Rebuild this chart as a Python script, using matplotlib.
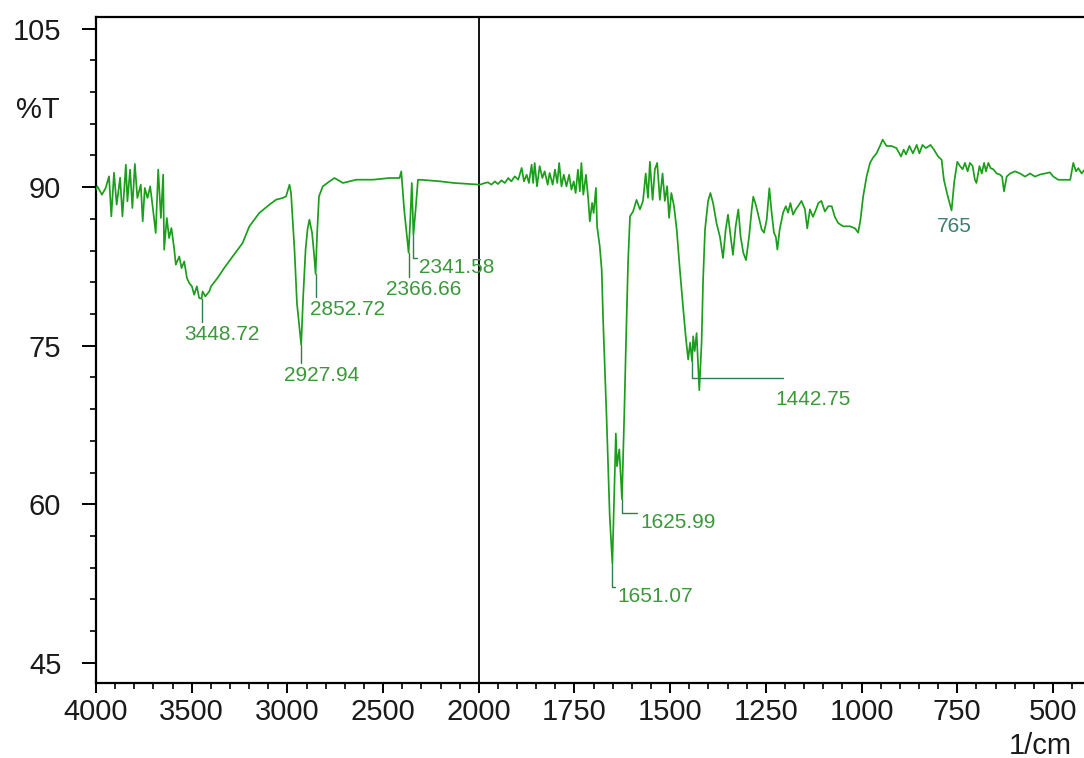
import numpy as np
import matplotlib
matplotlib.use("Agg")
import matplotlib.pyplot as plt
from matplotlib.ticker import FixedLocator, FixedFormatter

plt.rcParams['font.family'] = ['Liberation Sans', 'DejaVu Sans']

# FTIR spectrum: wavenumber (1/cm) and transmittance (%T)
wavenumber = [
    4000, 3993, 3969, 3949, 3932, 3920, 3906, 3892, 3874, 3862, 3844, 3836, 3822, 3810,
    3797, 3784, 3766, 3756, 3745, 3731, 3717, 3703, 3688, 3675, 3661, 3649, 3644, 3630,
    3618, 3606, 3592, 3583, 3565, 3553, 3539, 3525, 3513, 3499, 3487, 3473, 3461, 3448.72,
    3443, 3429, 3408, 3399, 3365, 3330, 3286, 3234, 3199, 3147, 3094, 3059, 3025, 3007,
    2989, 2981, 2963, 2950, 2927.94, 2918, 2905, 2895, 2885, 2871, 2860, 2852.72, 2845,
    2835, 2815, 2780, 2754, 2710, 2640, 2553, 2466, 2414, 2405, 2390, 2366.66, 2358, 2350,
    2341.58, 2330, 2318, 2300, 2200, 2130, 2000,
    1997, 1984, 1976, 1967, 1958, 1950, 1941, 1932, 1923, 1915, 1906, 1897, 1888, 1882,
    1875, 1869, 1862, 1858, 1854, 1848, 1841, 1834, 1828, 1820, 1815, 1807, 1801, 1795,
    1790, 1784, 1778, 1771, 1764, 1758, 1752, 1747, 1741, 1736, 1732, 1727, 1720, 1714,
    1710, 1704, 1700, 1694, 1691, 1684, 1679, 1675, 1666, 1658, 1651.07, 1646, 1642, 1639,
    1633, 1625.99, 1620, 1615, 1610, 1605, 1597, 1588, 1579, 1571, 1564, 1558, 1553, 1546,
    1540, 1534, 1527, 1520, 1514, 1508, 1503, 1497, 1490, 1483, 1475, 1466, 1459, 1453,
    1448, 1442.75, 1440, 1436, 1431, 1424, 1418, 1414, 1409, 1401, 1395, 1388, 1379, 1370,
    1362, 1355, 1349, 1342, 1336, 1329, 1322, 1316, 1309, 1302, 1294, 1287, 1283, 1276,
    1267, 1261, 1255, 1248, 1241, 1235, 1229, 1224, 1220, 1214, 1205, 1198, 1192, 1186,
    1179, 1172, 1166, 1157, 1148, 1142, 1135, 1127, 1119, 1113, 1105, 1096, 1087, 1078,
    1070, 1061, 1048, 1030, 1017, 1009, 1003, 996, 987, 978, 970, 961, 952, 945,
    935, 922, 909, 897, 890, 884, 875, 866, 856, 849, 841, 832, 820, 811,
    800, 791, 785, 776, 765, 758, 750, 743, 736, 730, 723, 717, 710, 704,
    700, 692, 686, 680, 675, 669, 663, 656, 647, 639, 633, 628, 621, 612,
    599, 586, 573, 560, 547, 534, 521, 508, 499, 486, 473, 455, 447, 440,
    434, 425, 419, 400,
]
transmittance = [
    89.8, 90.08, 89.29, 89.95, 91.03, 87.24, 91.37, 88.35, 90.90, 87.24, 92.13, 88.66, 91.66, 88.03,
    92.20, 88.98, 90.24, 86.77, 89.93, 88.98, 90.08, 88.03, 85.67, 91.66, 87.09, 91.19, 84.09, 87.09,
    85.19, 86.14, 84.25, 82.67, 83.45, 82.35, 82.98, 81.41, 80.94, 80.62, 79.83, 80.62, 79.52, 79.45,
    80.14, 79.67, 80.14, 80.62, 81.41, 82.36, 83.45, 84.72, 86.29, 87.56, 88.35, 88.82, 88.98, 89.13,
    90.24, 89.45, 84.09, 79.0, 75.1, 79.5, 84.1, 86.0, 86.93, 85.67, 83.5, 81.8, 85.5,
    89.13, 90.08, 90.55, 90.87, 90.40, 90.71, 90.71, 90.87, 90.87, 91.50, 87.9, 83.8, 87.0, 90.4,
    85.5, 87.9, 90.7, 90.7, 90.55, 90.40, 90.24,
    90.24, 90.40, 90.46, 90.24, 90.55, 90.30, 90.65, 90.40, 90.87, 90.55, 91.03, 90.71, 91.82, 90.55,
    91.18, 90.40, 92.13, 90.40, 92.29, 90.08, 92.0, 90.87, 91.50, 90.24, 91.34, 90.24, 91.66, 90.40,
    92.29, 90.08, 91.18, 90.08, 91.18, 89.77, 90.55, 89.45, 91.66, 89.61, 92.29, 89.29, 91.18, 88.82,
    86.77, 88.51, 87.56, 89.93, 86.29, 84.40, 82.2, 77.2, 68.0, 58.9, 54.4, 61.1, 66.7, 63.6,
    65.2, 60.5, 68.5, 76.0, 83.0, 87.24, 87.7, 88.8, 87.9, 88.7, 91.3, 89.0, 92.4, 88.8,
    91.7, 92.3, 88.8, 91.3, 88.7, 90.1, 87.1, 89.45, 88.2, 86.0, 82.3, 78.5, 75.7, 73.7,
    75.3, 73.5, 75.9, 74.5, 76.2, 70.8, 75.3, 81.3, 86.0, 88.7, 89.45, 88.5, 86.6, 85.3,
    83.3, 86.0, 87.4, 85.3, 83.6, 86.3, 87.9, 85.3, 83.8, 83.1, 85.3, 87.9, 89.1, 88.3,
    86.9, 86.0, 85.7, 86.9, 89.9, 87.6, 85.7, 85.3, 84.1, 86.0, 87.6, 88.2, 87.6, 88.5,
    87.4, 87.9, 88.2, 88.7, 87.9, 86.1, 87.9, 87.2, 87.9, 88.5, 88.7, 87.7, 88.2, 88.2,
    87.2, 86.6, 86.3, 86.3, 86.1, 85.7, 86.9, 89.1, 91.0, 92.3, 92.8, 93.2, 93.9, 94.5,
    93.9, 93.9, 93.7, 92.9, 93.55, 93.1, 93.9, 93.2, 94.0, 93.2, 94.0, 93.7, 94.0, 93.55,
    92.9, 92.6, 90.7, 89.3, 87.8, 90.5, 92.4, 92.0, 91.7, 92.3, 91.5, 92.3, 92.0, 90.7,
    90.4, 92.0, 91.3, 92.3, 91.5, 92.3, 91.8, 91.7, 91.3, 91.2, 91.0, 89.6, 91.0, 91.3,
    91.5, 91.3, 91.0, 91.3, 91.0, 91.2, 91.3, 91.4, 91.0, 90.7, 90.7, 90.7, 92.3, 91.5,
    91.8, 91.3, 91.6, 91.2,
]

# Labelled peaks
peak_labels = ["3448.72", "2927.94", "2852.72", "2366.66", "2341.58",
               "1651.07", "1625.99", "1442.75", "765"]
x_major = [4000, 3500, 3000, 2500, 2000, 1750, 1500, 1250, 1000, 750, 500]
y_major = [105, 90, 75, 60, 45]

LINE = "#1c9e1c"
LABEL = "#3b983b"
LEADER = "#2f7f4a"


def fwd(w):
    # 4000-2000 at one scale, below 2000 stretched twofold
    w = np.asarray(w, dtype=float)
    return np.where(w >= 2000, w, 2 * w - 2000)


def inv(u):
    u = np.asarray(u, dtype=float)
    return np.where(u >= 2000, u, (u + 2000) / 2)


fig = plt.figure(figsize=(10.84, 7.58), dpi=100)
ax = fig.add_axes([96 / 1084, 75 / 758, 1 - 96 / 1084, (683 - 17) / 758])
ax.set_xscale("function", functions=(fwd, inv))

wn = np.array(wavenumber)
tr = np.array(transmittance)
ax.plot(wn, tr, color=LINE, lw=1.25, zorder=3)

ax.set_xlim(4000, 419)
ax.set_ylim(43.1, 106.1)

# divider at 2000 where the x scale changes
ax.axvline(2000, color="black", lw=1.3, zorder=2)

for side in ("left", "bottom", "top"):
    ax.spines[side].set_linewidth(1.6)
ax.spines["right"].set_visible(False)

ax.xaxis.set_major_locator(FixedLocator(x_major))
ax.xaxis.set_major_formatter(FixedFormatter([str(v) for v in x_major]))
x_minor = list(range(3900, 2000, -100)) + list(range(1950, 400, -50))
x_minor = [v for v in x_minor if v not in x_major]
ax.xaxis.set_minor_locator(FixedLocator(x_minor))

ax.yaxis.set_major_locator(FixedLocator(y_major))
ax.yaxis.set_minor_locator(FixedLocator([v for v in range(45, 106, 3) if v not in y_major]))

ax.tick_params(axis="x", which="major", direction="out", length=7, width=1.4,
               labelsize=21, pad=4)
ax.tick_params(axis="x", which="minor", direction="out", length=4, width=1.2)
ax.tick_params(axis="y", which="major", direction="out", length=10, width=1.4,
               labelsize=21, pad=15)
ax.tick_params(axis="y", which="minor", direction="out", length=4, width=1.2)
for lab in ax.get_xticklabels() + ax.get_yticklabels():
    lab.set_color("#1a1a1a")

fig.text(38 / 1084, 1 - 110 / 758, "%T", fontsize=21, color="#1a1a1a",
         ha="center", va="center")
fig.text(1072 / 1084, 1 - 746 / 758, "1/cm", fontsize=21, color="#1a1a1a",
         ha="right", va="center")

# label offsets (pixels from the peak) and leader attachment on the text box
label_style = {
    "3448.72": ((-17, -26), (0.05, 1.0)),
    "2927.94": ((-17, -21), (0.05, 1.0)),
    "2852.72": ((-6, -26), (0.05, 1.0)),
    "2366.66": ((-23, -27), (0.05, 1.0)),
    "2341.58": ((6, -23), (0.05, 1.0)),
    "1651.07": ((5, -23), (0.05, 1.0)),
    "1625.99": ((18, -14), (0.05, 1.0)),
    "1442.75": ((83, -28), (0.1, 1.6)),
}
for lab in peak_labels:
    w = float(lab)
    t = float(np.interp(w, wn[::-1], tr[::-1]))
    if lab == "765":
        ax.annotate(lab, xy=(w, t), xytext=(3, -7), textcoords="offset pixels",
                    ha="center", va="top", fontsize=15, color="#3a7f70")
        continue
    (dx, dy), rel = label_style[lab]
    ax.annotate(lab, xy=(w, t), xytext=(dx, dy), textcoords="offset pixels",
                ha="left", va="top", fontsize=15, color=LABEL,
                arrowprops=dict(arrowstyle="-", color=LEADER, lw=1.0,
                                shrinkA=0, shrinkB=0, relpos=rel,
                                connectionstyle="angle,angleA=0,angleB=90,rad=0"))

fig.savefig("out.png", dpi=100, facecolor="white")
